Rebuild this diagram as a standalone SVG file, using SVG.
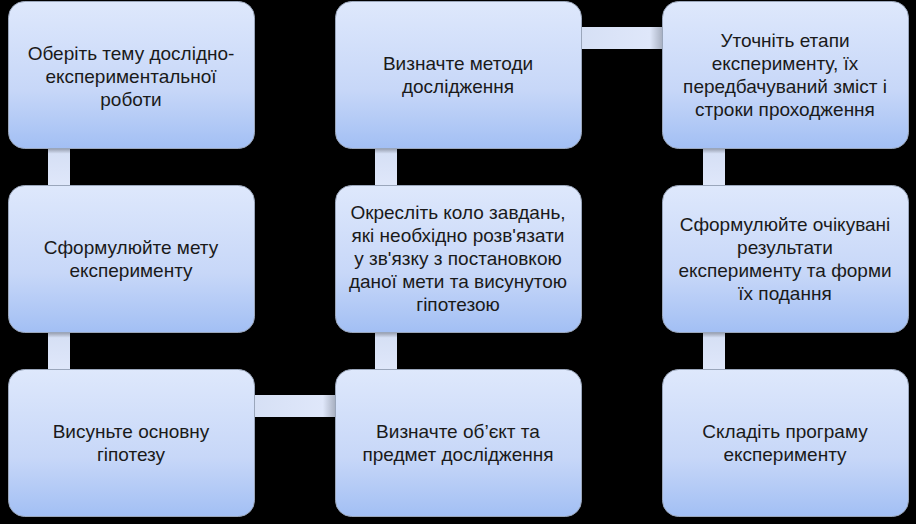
<svg xmlns="http://www.w3.org/2000/svg" width="916" height="524" viewBox="0 0 916 524">
<defs>
<linearGradient id="boxg" x1="0" y1="0" x2="0" y2="1">
<stop offset="0" stop-color="#dee8fc"/>
<stop offset="0.6" stop-color="#c7d7f8"/>
<stop offset="1" stop-color="#a2bff4"/>
</linearGradient>
<linearGradient id="vbar" x1="0" y1="0" x2="0" y2="1">
<stop offset="0" stop-color="#8f96a6"/>
<stop offset="0.15" stop-color="#d6e0f5"/>
<stop offset="1" stop-color="#dfe7fa"/>
</linearGradient>
<linearGradient id="hbar" x1="0" y1="0" x2="1" y2="0">
<stop offset="0" stop-color="#d6e0f5"/>
<stop offset="0.85" stop-color="#dfe7fa"/>
<stop offset="1" stop-color="#a9b1c2"/>
</linearGradient>
</defs>
<style>
.box{fill:url(#boxg);stroke:#9aa6bb;stroke-width:1}
.t{font-family:"Liberation Sans","DejaVu Sans",sans-serif;font-size:19px;fill:#1a1a1a;text-anchor:middle}
</style>
<rect width="916" height="524" fill="#000"/>
<g id="connectors">
<rect x="48" y="148" width="22" height="38" fill="url(#vbar)"/>
<rect x="48" y="332" width="22" height="38" fill="url(#vbar)"/>
<rect x="254" y="395" width="81" height="22" fill="url(#hbar)"/>
<rect x="375" y="332" width="22" height="38" fill="url(#vbar)"/>
<rect x="375" y="148" width="22" height="38" fill="url(#vbar)"/>
<rect x="581" y="27" width="81" height="22" fill="url(#hbar)"/>
<rect x="703" y="148" width="22" height="38" fill="url(#vbar)"/>
<rect x="703" y="332" width="22" height="38" fill="url(#vbar)"/>
</g>
<g id="n1"><rect class="box" x="8.5" y="1.5" width="246" height="147" rx="16"/>
<text class="t" x="131" y="60">Оберіть тему дослідно-</text>
<text class="t" x="131" y="83">експериментальної</text>
<text class="t" x="131" y="106">роботи</text></g>
<g id="n2"><rect class="box" x="8.5" y="185.5" width="246" height="147" rx="16"/>
<text class="t" x="131" y="254">Сформулюйте мету</text>
<text class="t" x="131" y="277">експерименту</text></g>
<g id="n3"><rect class="box" x="8.5" y="369.5" width="246" height="147" rx="16"/>
<text class="t" x="131" y="438">Висуньте основну</text>
<text class="t" x="131" y="461">гіпотезу</text></g>
<g id="n4"><rect class="box" x="335.5" y="369.5" width="246" height="147" rx="16"/>
<text class="t" x="458" y="438">Визначте об’єкт та</text>
<text class="t" x="458" y="461">предмет дослідження</text></g>
<g id="n5"><rect class="box" x="335.5" y="185.5" width="246" height="147" rx="16"/>
<text class="t" x="458" y="219">Окресліть коло завдань,</text>
<text class="t" x="458" y="242">які необхідно розв'язати</text>
<text class="t" x="458" y="265">у зв'язку з постановкою</text>
<text class="t" x="458" y="288">даної мети та висунутою</text>
<text class="t" x="458" y="311">гіпотезою</text></g>
<g id="n6"><rect class="box" x="335.5" y="1.5" width="246" height="147" rx="16"/>
<text class="t" x="458" y="70">Визначте методи</text>
<text class="t" x="458" y="93">дослідження</text></g>
<g id="n7"><rect class="box" x="662.5" y="1.5" width="246" height="147" rx="16"/>
<text class="t" x="785" y="47">Уточніть етапи</text>
<text class="t" x="785" y="70">експерименту, їх</text>
<text class="t" x="785" y="93">передбачуваний зміст і</text>
<text class="t" x="785" y="116">строки проходження</text></g>
<g id="n8"><rect class="box" x="662.5" y="185.5" width="246" height="147" rx="16"/>
<text class="t" x="785" y="231">Сформулюйте очікувані</text>
<text class="t" x="785" y="254">результати</text>
<text class="t" x="785" y="277">експерименту та форми</text>
<text class="t" x="785" y="300">їх подання</text></g>
<g id="n9"><rect class="box" x="662.5" y="369.5" width="246" height="147" rx="16"/>
<text class="t" x="785" y="438">Складіть програму</text>
<text class="t" x="785" y="461">експерименту</text></g>
</svg>
